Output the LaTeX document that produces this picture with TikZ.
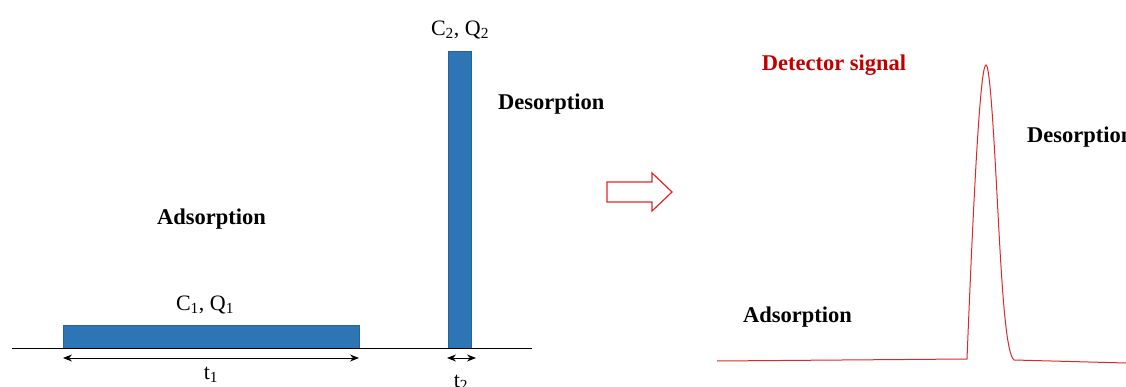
\documentclass[tikz,border=0pt]{standalone}
\usepackage{fontspec}
\setmainfont{Liberation Serif}
\usetikzlibrary{arrows.meta}
\definecolor{barblue}{HTML}{2E75B6}
\definecolor{sigred}{HTML}{E0262B}
\definecolor{txtred}{HTML}{C00000}
\tikzset{
  bar/.style={fill=barblue, draw=barblue!85!black, line width=0.6pt, inner sep=0pt, outer sep=0pt},
  lbl/.style={font=\fontsize{22}{24}\selectfont, inner sep=0pt},
  blbl/.style={font=\fontsize{22.5}{24}\selectfont\bfseries, inner sep=0pt},
  dim/.style={{Stealth[length=9pt,width=7pt]}-{Stealth[length=9pt,width=7pt]}, line width=0.9pt},
}
\begin{document}
\begin{tikzpicture}[x=1pt,y=-1pt]
\useasboundingbox (0,0) rectangle (1126,387);
% left panel
\node[bar, minimum width=296pt, minimum height=23pt, anchor=south west] (b1) at (63,348) {};
\node[bar, minimum width=23pt, minimum height=297pt, anchor=south west] (b2) at (448,348) {};
\coordinate (axL) at (12,348);
\coordinate (axR) at (532,348);
\draw[line width=1pt] (axL) -- (axR);
\draw[dim] ([yshift=-10pt]b1.south west) -- ([yshift=-10pt]b1.south east);
\draw[dim] ([xshift=-1pt,yshift=-10pt]b2.south west) -- ([xshift=5pt,yshift=-10pt]b2.south east);
\node[lbl] (t1) at (211,375) {t\textsubscript{1}};
\node[lbl] (t2) at (461,383) {t\textsubscript{2}};
\node[lbl] (cq1) at (205,305) {C\textsubscript{1}, Q\textsubscript{1}};
\node[lbl] (cq2) at (460,30) {C\textsubscript{2}, Q\textsubscript{2}};
\node[blbl, anchor=west] (des1) at (498,104) {Desorption};
\node[blbl, anchor=west] (ads1) at (157,219) {Adsorption};
% hollow arrow
\draw[sigred, line width=1.2pt, line join=miter] (607,182) -- (652,182) -- (652,173) -- (672,192) -- (652,211) -- (652,202) -- (607,202) -- cycle;
% right panel
\coordinate (s0) at (717,361);
\coordinate (s1) at (967,359);
\coordinate (pk) at (986,65);
\coordinate (s2) at (1014,360);
\coordinate (s3) at (1126,363);
\draw[sigred, line width=1pt] (s0) -- (s1) .. controls (975,160) and (981,65) .. (pk)
  .. controls (991,65) and (996,180) .. (1000,250)
  .. controls (1004,320) and (1008,355) .. (s2) -- (s3);
\node[blbl, text=txtred] (det) at (834,65) {Detector signal};
\node[blbl, anchor=west] (des2) at (1027,137) {Desorption};
\node[blbl, anchor=west] (ads2) at (743,317) {Adsorption};
\end{tikzpicture}
\end{document}
